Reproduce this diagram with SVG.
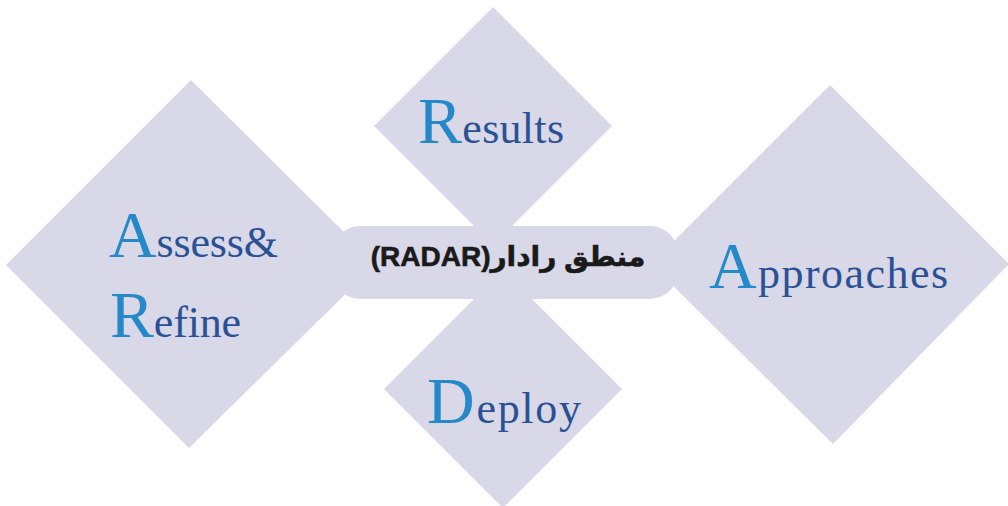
<svg xmlns="http://www.w3.org/2000/svg" width="1008" height="506" viewBox="0 0 1008 506">
<style>
.shape{fill:#d8d8e8;}
.lbl{font-family:"Liberation Serif","DejaVu Serif",serif;fill:#2a5196;font-size:44px;}
.cap{fill:#2589c9;font-size:66px;}
.center{font-family:"Liberation Sans","DejaVu Sans",sans-serif;font-weight:bold;font-size:28px;fill:#1a1a1a;stroke:#1a1a1a;stroke-width:0.6px;}
</style>
<rect width="1008" height="506" fill="#ffffff"/>
<g id="connectors"/>
<g id="assess-refine">
<polygon class="shape" points="191,80 376,264 189,448 6,265"/>
<text class="lbl" x="109" y="257" textLength="169" lengthAdjust="spacing"><tspan class="cap">A</tspan>ssess&amp;</text>
<text class="lbl" x="110" y="337" textLength="131" lengthAdjust="spacing"><tspan class="cap">R</tspan>efine</text>
</g>
<g id="results">
<polygon class="shape" points="493,7 612,126 493,245 374,126"/>
<text class="lbl" x="418" y="143" textLength="146" lengthAdjust="spacing"><tspan class="cap">R</tspan>esults</text>
</g>
<g id="approaches">
<polygon class="shape" points="830,85 1009,264 833,444 651,264"/>
<text class="lbl" x="709" y="288" textLength="239" lengthAdjust="spacing"><tspan class="cap">A</tspan>pproaches</text>
</g>
<g id="deploy">
<polygon class="shape" points="503,270 622,389 503,508 384,389"/>
<text class="lbl" x="427" y="423" textLength="154" lengthAdjust="spacing"><tspan class="cap">D</tspan>eploy</text>
</g>
<g id="radar">
<rect class="shape" x="332" y="226" width="346" height="73" rx="28" ry="28"/>
<text class="center" x="508" y="266" text-anchor="middle" direction="rtl">منطق رادار(RADAR)</text>
</g>
</svg>
